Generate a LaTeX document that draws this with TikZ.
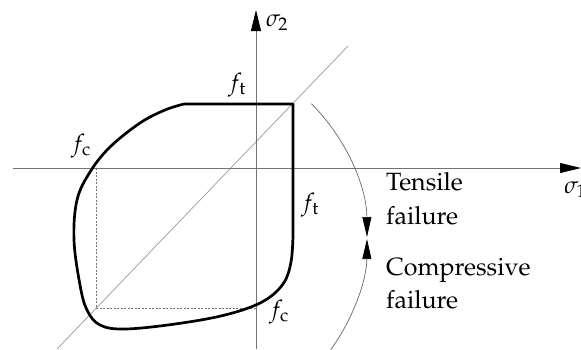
\documentclass[tikz,border=0pt]{standalone}
\usepackage[T1]{fontenc}
\usepackage{mathpazo}
\usetikzlibrary{arrows.meta}
\begin{document}
\begin{tikzpicture}[x=1pt,y=-1pt,
  axis/.style={draw=black!55, line width=0.8pt},
  diag/.style={draw=black!40, line width=0.7pt},
  guide/.style={draw=black!55, line width=0.6pt, dash pattern=on 2pt off 1.5pt},
  envelope/.style={draw=black, line width=2.7pt, line join=round},
  arcline/.style={draw=black!60, line width=0.7pt},
  bigtip/.style={-{Triangle[length=21pt,width=10pt,color=black]}},
  smalltip/.style={-{Triangle[length=20pt,width=9pt,color=black]}},
  lbl/.style={font=\fontsize{25}{30}\selectfont, inner sep=0pt},
  mlbl/.style={font=\fontsize{24}{28}\selectfont, inner sep=0pt}]
\clip (0,0) rectangle (581,349);
\useasboundingbox (0,0) rectangle (581,349);
% coordinates
\coordinate (xs) at (13,168);
\coordinate (xe) at (581,168);
\coordinate (ys) at (256,349);
\coordinate (ye) at (256,10);
\coordinate (d1) at (57,349);
\coordinate (d2) at (348,46);
\coordinate (cc) at (96,308);
\coordinate (ca) at (96,168);
\coordinate (cb) at (256,308);
\coordinate (A) at (311.35,103.65);
\coordinate (E) at (330.7,349.7);
% diagonal
\draw[diag] (d1) -- (d2);
% axes
\draw[axis,bigtip] (xs) -- (xe);
\draw[axis,bigtip] (ys) -- (ye);
% dashed guides
\draw[guide] (ca) -- (cc) -- (cb);
% failure envelope
\draw[envelope] (184,104) -- (293,104) -- (293,235)
  -- plot[smooth, tension=0.6] coordinates {(293,235) (291,262) (283,284) (262,302) (225,315) (175,324) (125,329) (100,325) (87,310) (80,285) (74,240) (77,200) (90,172) (110,147) (140,123) (165,110) (184,104)};
% arc with arrows
\draw[arcline,smalltip] (A) arc[start angle=-45,end angle=-0.3,radius=190];
\draw[arcline,smalltip] (E) arc[start angle=36,end angle=0.3,radius=190];
% labels
\node[mlbl] (s2) at (277,23) {$\sigma_2$};
\node[mlbl,anchor=base west] (s1) at (564,193) {$\sigma_1$};
\node[mlbl] (ft1) at (237,85) {$f_{\mathrm{t}}$};
\node[mlbl] (fc1) at (81,146) {$f_{\mathrm{c}}$};
\node[mlbl] (ft2) at (310,205) {$f_{\mathrm{t}}$};
\node[mlbl] (fc2) at (279,312) {$f_{\mathrm{c}}$};
\node[lbl,anchor=base west] (t1) at (386,190) {Tensile};
\node[lbl,anchor=base west] (t2) at (386,224) {failure};
\node[lbl,anchor=base west] (c1) at (386,275) {Compressive};
\node[lbl,anchor=base west] (c2) at (386,308) {failure};
\end{tikzpicture}
\end{document}
